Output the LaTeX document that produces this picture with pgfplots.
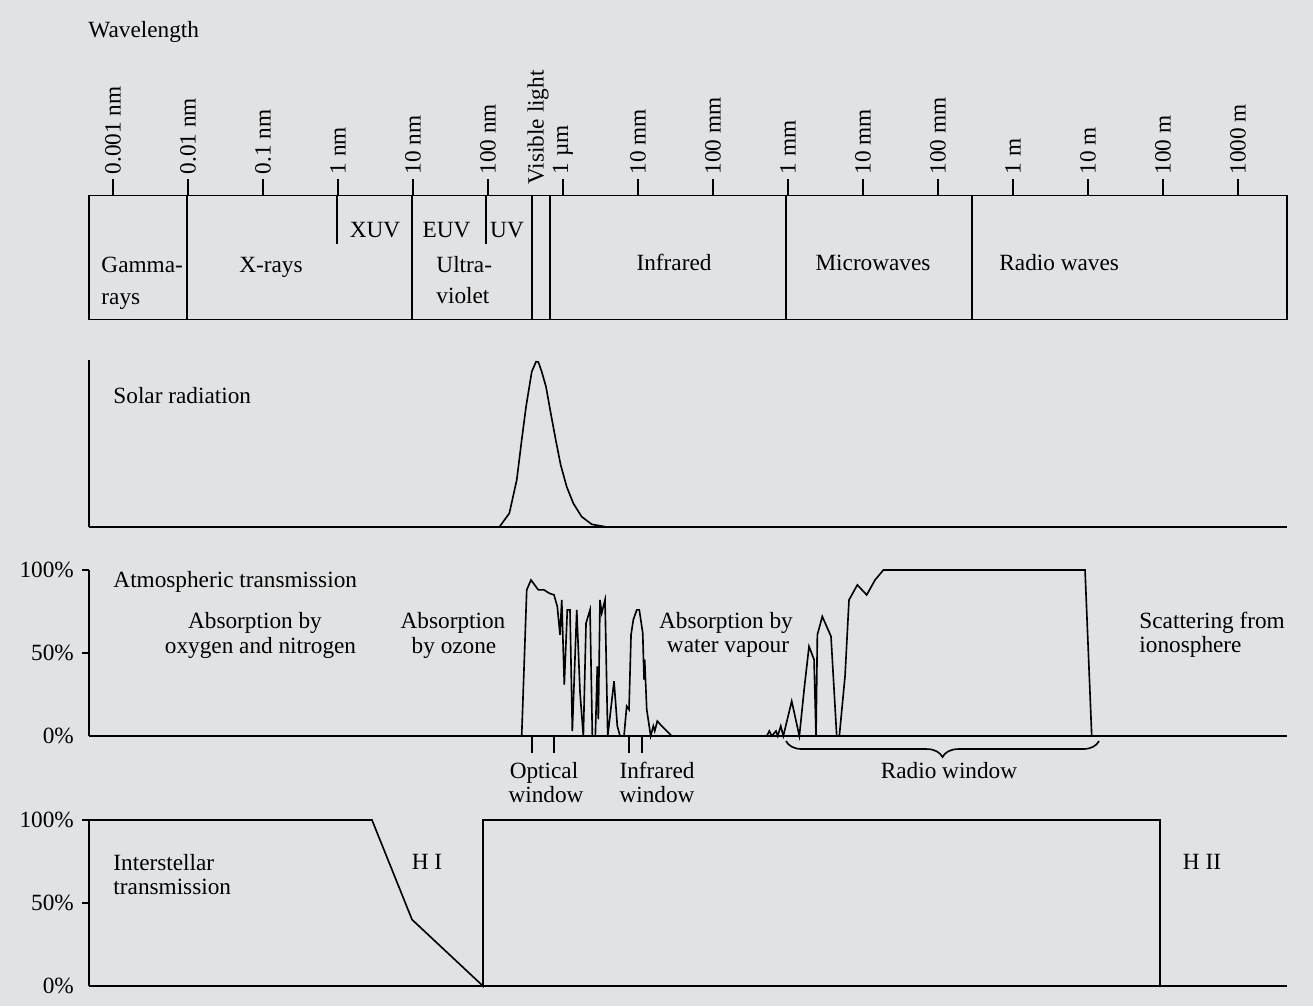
\documentclass[border=0pt]{standalone}
\usepackage{fontspec}
\setmainfont{Liberation Serif}
\usepackage{pgfplots}
\pgfplotsset{compat=1.18}
\usetikzlibrary{decorations.pathreplacing}
\definecolor{bg}{RGB}{225,226,228}

% x is log10 of the wavelength in metres, 1 px of the reference = 0.43pt
\pgfplotsset{
  band/.style={scale only axis, width=515.14pt, xmin=-12.32, xmax=3.653,
    anchor=south west, clip=false,
    axis line style={line width=0.7pt, black},
    tick style={line width=0.7pt, black}},
  pl/.style={black, line width=0.7pt, mark=none, forget plot},
}

\begin{document}
\begin{tikzpicture}
\begin{scope}[x=0.43pt, y=-0.43pt]
  \fill[bg, use as bounding box] (0,0) rectangle (1313,1006);
\end{scope}

% wavelength scale and regions
\begin{axis}[band, at={(89*0.43pt,-319.5*0.43pt)}, height=53.32pt,
    ymin=0, ymax=1, ytick=\empty,
    xtick={-12,...,3}, xtick pos=right, xticklabel pos=right,
    tick align=outside, major tick length=6.9pt,
    xticklabels={0.001 nm,0.01 nm,0.1 nm,1 nm,10 nm,100 nm,1 µm,10 mm,100 mm,1 mm,10 mm,100 mm,1 m,10 m,100 m,1000 m},
    xticklabel style={rotate=90, anchor=west, inner sep=2pt}]
  \addplot[pl] coordinates {(-11.01,0) (-11.01,1)};
  \addplot[pl] coordinates {(-8.013,0) (-8.013,1)};
  \addplot[pl] coordinates {(-6.417,0) (-6.417,1)};
  \addplot[pl] coordinates {(-6.173,0) (-6.173,1)};
  \addplot[pl] coordinates {(-3.027,0) (-3.027,1)};
  \addplot[pl] coordinates {(-0.551,0) (-0.551,1)};
  \addplot[pl] coordinates {(-9.017,1) (-9.017,0.609)};
  \addplot[pl] coordinates {(-7.023,1) (-7.023,0.609)};
\end{axis}

% solar radiation
\begin{axis}[band, at={(89*0.43pt,-527*0.43pt)}, height=71.81pt,
    ymin=0, ymax=167, axis x line*=bottom, axis y line*=left,
    xtick=\empty, ytick=\empty]
  \addplot[pl] coordinates {
    (-7.017,0) (-6.849,0) (-6.716,13.7) (-6.617,47) (-6.551,87) (-6.493,120.3)
    (-6.417,155.3) (-6.36,165.3) (-6.329,165) (-6.284,155.3) (-6.227,140.3)
    (-6.164,114) (-6.097,87) (-6.031,62) (-5.951,40.3) (-5.863,23.7)
    (-5.751,10.3) (-5.617,2.7) (-5.417,0)};
\end{axis}

% atmospheric transmission
\begin{axis}[band, at={(89*0.43pt,-736*0.43pt)}, height=71.38pt,
    ymin=0, ymax=100, axis x line*=bottom, axis y line*=left,
    tick align=outside, major tick length=3pt,
    xtick=\empty, ytick={50,100}, yticklabels={50\%,100\%},
    extra y ticks={0}, extra y tick labels={0\%},
    extra y tick style={tick style={draw=none}},
    extra x ticks={-6.417,-6.12,-5.12,-4.943}, extra x tick labels={},
    extra x tick style={major tick length=7.3pt}]
  \addplot[pl] coordinates {
    (-6.551,0) (-6.484,88) (-6.427,94) (-6.329,88) (-6.253,88) (-6.183,86)
    (-6.12,85) (-6.076,78) (-6.04,61) (-6.017,82) (-5.983,31) (-5.943,76)
    (-5.907,76) (-5.876,3) (-5.817,76) (-5.773,26) (-5.729,0) (-5.693,68)
    (-5.64,76) (-5.609,0) (-5.569,0) (-5.543,42) (-5.529,10) (-5.507,82)
    (-5.484,74) (-5.44,82) (-5.404,0) (-5.32,33) (-5.276,6) (-5.24,0)
    (-5.187,0) (-5.151,18) (-5.12,16) (-5.093,61) (-5.063,70) (-5.017,76)
    (-4.983,76) (-4.937,62) (-4.92,34) (-4.911,46) (-4.884,16) (-4.831,0)
    (-4.796,6) (-4.777,3) (-4.743,9) (-4.684,6) (-4.551,0)};
  \addplot[pl] coordinates {
    (-3.284,0) (-3.249,3) (-3.217,0) (-3.16,3) (-3.137,0) (-3.097,6)
    (-3.063,0) (-2.951,21) (-2.849,0) (-2.783,29) (-2.72,54) (-2.653,46)
    (-2.627,0) (-2.609,61) (-2.543,72) (-2.427,60) (-2.351,0) (-2.316,0)
    (-2.24,36) (-2.187,82) (-2.076,91) (-1.951,85) (-1.84,94) (-1.729,100)
    (0.96,100) (1.049,0)};
\end{axis}

% interstellar transmission
\begin{axis}[band, at={(89*0.43pt,-986*0.43pt)}, height=71.38pt,
    ymin=0, ymax=100, axis x line*=bottom, axis y line*=left,
    tick align=outside, major tick length=3pt,
    xtick=\empty, ytick={50,100}, yticklabels={50\%,100\%},
    extra y ticks={0}, extra y tick labels={0\%},
    extra y tick style={tick style={draw=none}}]
  \addplot[pl] coordinates {
    (-12.32,100) (-8.547,100) (-8.013,40) (-7.067,0) (-7.067,100)
    (1.96,100) (1.96,0)};
\end{axis}

\begin{scope}[x=0.43pt, y=-0.43pt, every node/.style={inner sep=0pt}]
  \node[anchor=base west] at (88,37) {Wavelength};
  \node[rotate=90, anchor=west] at (538,185) {Visible light};
  \node[anchor=base west] at (101,272) {Gamma-};
  \node[anchor=base west] at (101,304) {rays};
  \node[anchor=base] at (271,272) {X-rays};
  \node[anchor=base] at (375,237) {XUV};
  \node[anchor=base] at (446.5,237) {EUV};
  \node[anchor=base] at (507,237) {UV};
  \node[anchor=base west] at (436,272) {Ultra-};
  \node[anchor=base west] at (436,303) {violet};
  \node[anchor=base] at (674,270) {Infrared};
  \node[anchor=base] at (873,270) {Microwaves};
  \node[anchor=base west] at (999,270) {Radio waves};

  \node[anchor=base west] at (113,403) {Solar radiation};

  \node[anchor=base west] at (113,587) {Atmospheric transmission};
  \node[anchor=base] at (255,628) {Absorption by};
  \node[anchor=base] at (260.5,653) {oxygen and nitrogen};
  \node[anchor=base] at (453,628) {Absorption};
  \node[anchor=base] at (454,653) {by ozone};
  \node[anchor=base] at (726,628) {Absorption by};
  \node[anchor=base] at (728,652) {water vapour};
  \node[anchor=base west] at (1139,628) {Scattering from};
  \node[anchor=base west] at (1139,652) {ionosphere};
  \node[anchor=base] at (544,778) {Optical};
  \node[anchor=base] at (546,802) {window};
  \node[anchor=base] at (657,778) {Infrared};
  \node[anchor=base] at (657,802) {window};
  \node[anchor=base] at (949,778) {Radio window};
  \draw[decorate, decoration={brace, mirror, amplitude=6.9pt}, line width=0.7pt]
    (786,741) -- (1099,741);

  \node[anchor=base west] at (113,870) {Interstellar};
  \node[anchor=base west] at (113,894) {transmission};
  \node[anchor=base] at (427,869) {H I};
  \node[anchor=base] at (1202,869) {H II};
\end{scope}
\end{tikzpicture}
\end{document}
